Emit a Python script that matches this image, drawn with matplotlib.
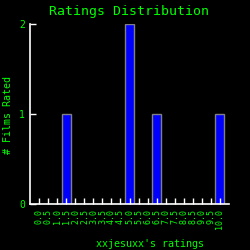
import matplotlib
matplotlib.use('Agg')
import matplotlib.pyplot as plt
import numpy as np

ratings = ['0.0', '0.5', '1.0', '1.5', '2.0', '2.5', '3.0', '3.5', '4.0', '4.5', '5.0',
           '5.5', '6.0', '6.5', '7.0', '7.5', '8.0', '8.5', '9.0', '9.5', '10.0']
counts = [0, 0, 0, 1, 0, 0, 0, 0, 0, 0, 2, 0, 0, 1, 0, 0, 0, 0, 0, 0, 1]

green = '#00ff00'
plt.rcParams['font.family'] = ['DejaVu Sans Mono']

fig = plt.figure(figsize=(2.5, 2.5), dpi=100, facecolor='black')
ax = fig.add_axes([0.12, 0.184, 0.796, 0.72], facecolor='black')

x = np.arange(len(ratings))
ax.bar(x, counts, width=0.92, color='#0000ff', edgecolor='#808080', linewidth=1)

ax.set_xlim(-1.05, 21.05)
ax.set_ylim(0, 2)
ax.set_xticks(x)
ax.set_xticklabels(ratings, rotation=90, fontsize=6, color=green)
ax.set_yticks([0, 1, 2])
ax.set_yticklabels(['0', '1', '2'], fontsize=7, color=green)
ax.tick_params(axis='both', direction='in', length=4, width=1, color='white')
ax.tick_params(axis='x', pad=3.5)

for s in ['top', 'right']:
    ax.spines[s].set_visible(False)
for s in ['left', 'bottom']:
    ax.spines[s].set_color('white')
    ax.spines[s].set_linewidth(1.2)

fig.text(0.515, 0.952, 'Ratings Distribution', color=green, fontsize=9.5,
         ha='center', va='center')
fig.text(0.6, 0.025, "xxjesuxx's ratings", color=green, fontsize=7.2,
         ha='center', va='center')
fig.text(0.034, 0.54, '# Films Rated', color=green, fontsize=7.2,
         ha='center', va='center', rotation=90)

fig.savefig('out.png', dpi=100, facecolor='black')
